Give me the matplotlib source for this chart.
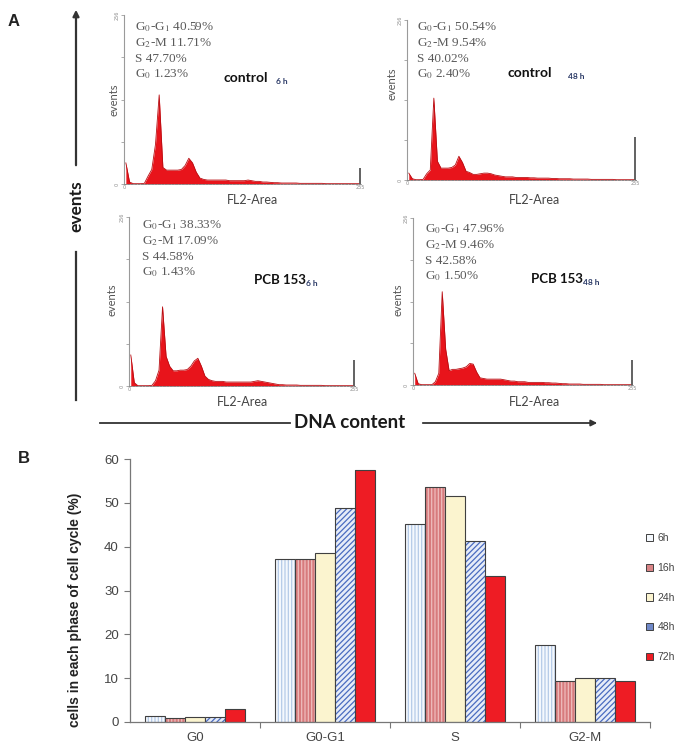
import matplotlib.pyplot as plt
import numpy as np
from matplotlib.lines import Line2D
from matplotlib.patches import FancyArrowPatch, Patch

W, H = 676, 745

# ---- panel A: DNA histograms (counts per 4-channel bin)
channels = np.arange(2, 256, 4)

control_6h = [32, 3, 0.5, 0.5, 0.5, 1, 12, 22, 60, 135, 25, 21, 21, 21, 21, 22,
              28, 39, 32, 18, 9, 7, 6, 6, 6, 6, 6, 6, 5, 5, 5, 5,
              5, 6, 5, 4, 4, 3, 3, 2.5, 2, 2, 1.5, 1.5, 1.5, 1.5, 1.5, 1,
              1, 1, 1, 1, 1, 1, 0.5, 0.5, 0.5, 0.5, 0.5, 0.5, 0.5, 0.5, 0.5, 0.5]
control_48h = [11, 2, 0.5, 0.5, 1, 10, 16, 131, 30, 19, 19, 19, 20, 24, 38, 28,
               14, 12, 9, 9, 10, 11, 11, 10, 8, 7, 6, 5, 5, 5, 4, 4,
               4, 4, 3.5, 3.5, 3, 3, 3, 3, 2.5, 2.5, 2, 2, 2, 2, 1.5, 1.5,
               1.5, 1.5, 1.5, 1, 1, 1, 1, 1, 1, 1, 0.5, 0.5, 0.5, 0.5, 0.5, 0.5]
pcb_6h = [47, 5, 0.5, 0.5, 0.5, 0.5, 1, 8, 24, 120, 45, 30, 23, 23, 24, 24,
          25, 30, 38, 42, 30, 15, 10, 8, 7, 7, 7, 6, 6, 6, 6, 6,
          6, 6, 6, 7, 8, 7, 6, 5, 4, 3, 2, 2, 1.5, 1.5, 1.5, 1.5,
          1, 1, 1, 1, 1, 1, 1, 0.5, 0.5, 0.5, 0.5, 0.5, 0.5, 0.5, 0.5, 0.5]
pcb_48h = [18, 2, 0.5, 0.5, 0.5, 0.5, 5, 18, 143, 55, 22, 24, 24, 25, 26, 28,
           33, 32, 20, 11, 10, 9, 9, 9, 9, 9, 8, 7, 6, 6, 5, 5,
           5, 4, 4, 4, 4, 4, 3.5, 3.5, 3, 3, 2.5, 2, 2, 1.5, 1.5, 1.5,
           1.5, 1, 1, 1, 1, 1, 1, 0.5, 0.5, 0.5, 0.5, 0.5, 0.5, 0.5, 0.5, 0.5]
end_spike = [24, 69, 39, 38]

g0g1 = [40.59, 50.54, 38.33, 47.96]
g2m = [11.71, 9.54, 17.09, 9.46]
s_phase = [47.70, 40.02, 44.58, 42.58]
g0 = [1.23, 2.40, 1.43, 1.50]
titles = ['control', 'control', 'PCB 153', 'PCB 153']
subs = ['6 h', '48 h', '6 h', '48 h']

# ---- panel B: bar chart
phases = ['G0', 'G0-G1', 'S', 'G2-M']
times = ['6h', '16h', '24h', '48h', '72h']
v6 = [1.4, 37.3, 45.1, 17.6]
v16 = [1.0, 37.3, 53.6, 9.4]
v24 = [1.2, 38.6, 51.6, 10.0]
v48 = [1.2, 48.9, 41.4, 10.0]
v72 = [2.9, 57.5, 33.3, 9.4]


def fx(x):
    return x / W


def fy(y):
    return 1 - y / H


def box(l, t, r, b):
    return [l / W, 1 - b / H, (r - l) / W, (b - t) / H]


plt.rcParams['mathtext.fontset'] = 'stix'
plt.rcParams['hatch.linewidth'] = 0.9

fig = plt.figure(figsize=(W / 100, H / 100), dpi=100)

hists = [control_6h, control_48h, pcb_6h, pcb_48h]
boxes = [(124, 15, 361, 184), (407, 20, 636, 180), (129, 217, 355, 386), (413, 218, 633, 385)]
stats_xy = [(135, 27), (417, 27), (142, 225), (425, 229)]
title_xy = [(223, 78), (507, 73), (254, 280), (531, 279)]
title_size = [10, 10, 9.5, 9.5]
sub_gap = [9, 17, 0.5, 0.5]
ev_xy = [(114, 100), (392, 84), (112, 300), (398, 300)]
fl_xy = [(252, 200), (535, 200), (242, 402), (535, 402)]

for i in range(4):
    ax = fig.add_axes(box(*boxes[i]))
    ax.fill_between(channels, hists[i], 0, color='#e8141b', lw=0)
    ax.plot(channels, hists[i], color='#b80d12', lw=0.6)
    ax.vlines(255, 0, end_spike[i], color='#555555', lw=1.3)
    ax.set_xlim(0, 256)
    ax.set_ylim(0, 256)
    for sp in ['top', 'right']:
        ax.spines[sp].set_visible(False)
    ax.spines['left'].set_color('#9a9a9a')
    ax.spines['left'].set_linewidth(0.8)
    ax.spines['bottom'].set_color('#8a8a8a')
    ax.spines['bottom'].set_linewidth(0.7)
    ax.spines['bottom'].set_linestyle((0, (2, 1.5)))
    ax.set_yticks([0, 64, 128, 192, 256])
    ax.set_yticklabels(['0', '', '', '', '256'], rotation=90, va='center')
    ax.set_xticks([0, 255])
    ax.set_xticklabels(['0', '255'])
    ax.tick_params(axis='both', labelsize=3.5, length=2, width=0.5,
                   colors='#8a8a8a', pad=1)
    ax.tick_params(axis='x', length=0)

    x0, y0 = stats_xy[i]
    lines = [r'G$_0$-G$_1$ %.2f%%' % g0g1[i],
             r'G$_2$-M %.2f%%' % g2m[i],
             'S %.2f%%' % s_phase[i],
             r'G$_0$ %.2f%%' % g0[i]]
    for k, t in enumerate(lines):
        fig.text(fx(x0), fy(y0 + k * 15.8), t, family='Liberation Serif',
                 fontsize=9.5, color='#5a5a5a', va='center', ha='left')
    tt = fig.text(fx(title_xy[i][0]), fy(title_xy[i][1]), titles[i], family='Lato',
                  fontweight='bold', fontsize=title_size[i], color='#111111', va='center')
    fig.add_artist(plt.Annotation(subs[i], xy=(1, 0.2), xycoords=tt,
                                  xytext=(sub_gap[i] * 0.72, 0), textcoords='offset points',
                                  family='Lato', fontweight='bold', fontsize=6,
                                  color='#2b3a67', va='center', ha='left'))
    fig.text(fx(ev_xy[i][0]), fy(ev_xy[i][1]), 'events', family='Lato',
             fontsize=8, color='#555555', rotation=90, va='center', ha='center')
    fig.text(fx(fl_xy[i][0]), fy(fl_xy[i][1]), 'FL2-Area', family='Lato',
             fontsize=9, color='#444444', va='center', ha='center')

# outer axis arrows
arrow_col = '#333333'
fig.add_artist(FancyArrowPatch((fx(76), fy(168)), (fx(76), fy(7)), transform=fig.transFigure,
                               arrowstyle='-|>', mutation_scale=9, lw=1.6, color=arrow_col))
fig.add_artist(Line2D([fx(76), fx(76)], [fy(400), fy(252)], transform=fig.transFigure,
                      lw=1.6, color=arrow_col))
fig.text(fx(76), fy(206), 'events', family='Lato', fontweight='bold', fontsize=12.5,
         rotation=90, va='center', ha='center', color='#1a1a1a')
fig.add_artist(Line2D([fx(100), fx(290)], [fy(423), fy(423)], transform=fig.transFigure,
                      lw=1.3, color=arrow_col))
fig.add_artist(FancyArrowPatch((fx(420), fy(423)), (fx(600), fy(423)), transform=fig.transFigure,
                               arrowstyle='-|>', mutation_scale=9, lw=1.3, color=arrow_col))
fig.text(fx(350), fy(422), 'DNA content', family='Lato', fontweight='bold', fontsize=13.5,
         va='center', ha='center', color='#1a1a1a')

fig.text(fx(14), fy(21), 'A', family='Liberation Sans', fontweight='bold', fontsize=12,
         va='center', ha='center', color='#222222')
fig.text(fx(24), fy(458), 'B', family='Liberation Sans', fontweight='bold', fontsize=12,
         va='center', ha='center', color='#222222')

# ---- bar chart
axb = fig.add_axes(box(130, 459, 650, 722))
series = [v6, v16, v24, v48, v72]
faces = ['#f4f8fd', '#d77b7d', '#fbf4cf', '#e6ecf8', '#ee1c24']
hatch_cols = ['#b5cbe8', '#efbcbc', '#fbf4cf', '#4a6cc0', '#ee1c24']
hatches = ['|||||', '|||||', '', '//////', '']
legend_faces = ['#f4f8fd', '#d98486', '#fbf4cf', '#7089c8', '#ee1c24']
w = 0.155
x = np.arange(len(phases))
for i, vals in enumerate(series):
    pos = x + (i - 2) * w
    axb.bar(pos, vals, w, color=faces[i], edgecolor=hatch_cols[i], hatch=hatches[i], lw=0)
    axb.bar(pos, vals, w, fill=False, edgecolor='#404040', lw=0.8)

axb.set_xlim(-0.5, 3.5)
axb.set_ylim(0, 60)
axb.set_yticks(range(0, 61, 10))
axb.set_xticks(x)
axb.set_xticklabels(phases)
axb.set_xticks([0.5, 1.5, 2.5, 3.5], minor=True)
axb.tick_params(axis='x', which='major', length=0, pad=7)
axb.tick_params(axis='x', which='minor', length=4, width=0.8, color='#777777')
axb.tick_params(axis='y', length=4, width=0.8, color='#777777', pad=4)
axb.tick_params(labelsize=9.5, labelcolor='#444444')
for lab in axb.get_xticklabels() + axb.get_yticklabels():
    lab.set_family('Liberation Sans')
for sp in ['top', 'right']:
    axb.spines[sp].set_visible(False)
for sp in ['left', 'bottom']:
    axb.spines[sp].set_color('#777777')
    axb.spines[sp].set_linewidth(0.9)

fig.text(fx(75), fy(610), 'cells in each phase of cell cycle (%)', family='Liberation Sans',
         fontweight='bold', fontsize=10, rotation=90, va='center', ha='center', color='#222222')

handles = [Patch(facecolor=legend_faces[i], edgecolor='#404040', lw=0.7) for i in range(5)]
fig.legend(handles, times, loc='upper left', bbox_to_anchor=(fx(646), fy(533)),
           frameon=False, handlelength=0.7, handleheight=0.7,
           handletextpad=0.4, labelspacing=1.9, borderpad=0, borderaxespad=0,
           labelcolor='#444444', prop={'family': 'Liberation Sans', 'size': 7.5})

fig.savefig('out.png', dpi=100)
